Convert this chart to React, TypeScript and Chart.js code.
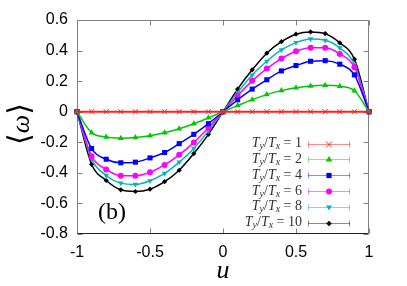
import React, { useEffect, useRef } from 'react';
import { Chart, registerables } from 'chart.js';

Chart.register(...registerables);

// ---- data ----
const uValues = [-1, -0.9, -0.8, -0.7, -0.6, -0.5, -0.4, -0.3, -0.2, -0.1, 0, 0.1, 0.2, 0.3, 0.4, 0.5, 0.6, 0.7, 0.8, 0.9, 1];

const ratio1 = [0, 0, 0, 0, 0, 0, 0, 0, 0, 0, 0, 0, 0, 0, 0, 0, 0, 0, 0, 0, 0];
const ratio2 = [0, -0.137, -0.166, -0.173, -0.169, -0.157, -0.138, -0.112, -0.079, -0.040, 0, 0.040, 0.079, 0.112, 0.138, 0.157, 0.169, 0.173, 0.166, 0.137, 0];
const ratio4 = [0, -0.241, -0.311, -0.334, -0.330, -0.302, -0.267, -0.209, -0.148, -0.078, 0, 0.078, 0.148, 0.209, 0.267, 0.302, 0.330, 0.334, 0.311, 0.241, 0];
const ratio6 = [0, -0.291, -0.378, -0.419, -0.419, -0.396, -0.348, -0.282, -0.202, -0.105, 0, 0.105, 0.202, 0.282, 0.348, 0.396, 0.419, 0.419, 0.378, 0.291, 0];
const ratio8 = [0, -0.310, -0.417, -0.467, -0.476, -0.452, -0.404, -0.330, -0.240, -0.125, 0, 0.125, 0.240, 0.330, 0.404, 0.452, 0.476, 0.467, 0.417, 0.310, 0];
const ratio10 = [0, -0.344, -0.450, -0.511, -0.522, -0.507, -0.458, -0.383, -0.274, -0.148, 0, 0.148, 0.274, 0.383, 0.458, 0.507, 0.522, 0.511, 0.450, 0.344, 0];

const seriesRatios = ['1', '2', '4', '6', '8', '10'];
const seriesValues = [ratio1, ratio2, ratio4, ratio6, ratio8, ratio10];

const xTicks = [-1, -0.5, 0, 0.5, 1];
const xTickLabels = ['-1', '-0.5', '0', '0.5', '1'];
const yTicks = [0.6, 0.4, 0.2, 0, -0.2, -0.4, -0.6, -0.8];
const yTickLabels = ['0.6', '0.4', '0.2', '0', '-0.2', '-0.4', '-0.6', '-0.8'];

// ---- styles ----
const colors = ['#ff2020', '#00c800', '#0000ff', '#ff00ff', '#00b8b8', '#000000'];
const lightColors = ['rgba(255,40,40,0.55)', 'rgba(0,200,0,0.45)', 'rgba(0,0,255,0.45)', 'rgba(255,0,255,0.5)', 'rgba(0,184,184,0.5)', 'rgba(0,0,0,0.45)'];
const pointStyles: any[] = ['crossRot', 'triangle', 'rect', 'circle', 'triangle', 'rectRot'];
const pointRotations = [0, 0, 0, 0, 180, 0];
const pointRadii = [3.5, 3.5, 3.6, 3, 3.2, 2.6];

function drawMarker(ctx: CanvasRenderingContext2D, idx: number, x: number, y: number) {
  const c = colors[idx];
  ctx.save();
  ctx.fillStyle = c;
  ctx.strokeStyle = c;
  ctx.lineWidth = 1;
  ctx.beginPath();
  if (idx === 0) {
    const s = 3;
    ctx.moveTo(x - s, y - s); ctx.lineTo(x + s, y + s);
    ctx.moveTo(x - s, y + s); ctx.lineTo(x + s, y - s);
    ctx.stroke();
  } else if (idx === 1) {
    ctx.moveTo(x, y - 3.5); ctx.lineTo(x + 3.3, y + 2); ctx.lineTo(x - 3.3, y + 2); ctx.closePath(); ctx.fill();
  } else if (idx === 2) {
    ctx.rect(x - 2.6, y - 2.6, 5.2, 5.2); ctx.fill();
  } else if (idx === 3) {
    ctx.arc(x, y, 3, 0, Math.PI * 2); ctx.fill();
  } else if (idx === 4) {
    ctx.moveTo(x, y + 3); ctx.lineTo(x + 3, y - 2); ctx.lineTo(x - 3, y - 2); ctx.closePath(); ctx.fill();
  } else {
    ctx.moveTo(x, y - 2.8); ctx.lineTo(x + 2.8, y); ctx.lineTo(x, y + 2.8); ctx.lineTo(x - 2.8, y); ctx.closePath(); ctx.fill();
  }
  ctx.restore();
}

function drawLegendLabel(ctx: CanvasRenderingContext2D, ratio: string, xRight: number, y: number) {
  const main = 'italic 14px "Liberation Serif"';
  const sub = 'italic 10px "Liberation Serif"';
  const up = '14px "Liberation Serif"';
  const parts = [
    { t: 'T', f: main, dy: 0 },
    { t: 'y', f: sub, dy: 3 },
    { t: '/', f: up, dy: 0 },
    { t: 'T', f: main, dy: 0 },
    { t: 'x', f: sub, dy: 3 },
    { t: ' = ' + ratio, f: up, dy: 0 },
  ];
  ctx.save();
  ctx.fillStyle = '#333';
  ctx.textBaseline = 'middle';
  ctx.textAlign = 'left';
  let total = 0;
  const widths = parts.map((p) => { ctx.font = p.f; const w = ctx.measureText(p.t).width; total += w; return w; });
  let x = xRight - total;
  parts.forEach((p, i) => {
    ctx.font = p.f;
    ctx.fillText(p.t, x, y + p.dy);
    x += widths[i];
  });
  ctx.restore();
}

const decorPlugin = {
  id: 'decor',
  beforeDatasetsDraw(chart: any) {
    const { ctx, chartArea } = chart;
    const { left, right, top, bottom } = chartArea;
    const xs = chart.scales.x;
    const ys = chart.scales.y;
    const L = Math.round(left) + 0.5, R = Math.round(right) - 0.5;
    const T = Math.round(top) + 0.5, B = Math.round(bottom) - 0.5;
    ctx.save();
    ctx.lineWidth = 1;
    ctx.strokeStyle = '#808080';
    ctx.beginPath();
    ctx.moveTo(L, B); ctx.lineTo(L, T); ctx.lineTo(R, T); ctx.lineTo(R, B);
    const tl = 5;
    xTicks.forEach((v) => {
      const px = Math.round(xs.getPixelForValue(v)) + 0.5;
      ctx.moveTo(px, B); ctx.lineTo(px, B - tl);
      ctx.moveTo(px, T); ctx.lineTo(px, T + tl);
    });
    yTicks.forEach((v) => {
      const py = Math.round(ys.getPixelForValue(v)) + 0.5;
      ctx.moveTo(L, py); ctx.lineTo(L + tl, py);
      ctx.moveTo(R, py); ctx.lineTo(R - tl, py);
    });
    ctx.stroke();
    ctx.strokeStyle = '#222';
    ctx.beginPath();
    ctx.moveTo(L, B); ctx.lineTo(R, B);
    ctx.stroke();
    ctx.restore();
  },
  afterDraw(chart: any) {
    const { ctx, chartArea } = chart;
    ctx.save();
    ctx.fillStyle = '#000';
    ctx.textAlign = 'center';
    ctx.textBaseline = 'middle';
    ctx.font = 'italic 26px "Liberation Serif"';
    ctx.fillText('u', (chartArea.left + chartArea.right) / 2, 271);

    // y-axis title ⟨ω⟩ rotated
    ctx.save();
    ctx.translate(21, 124);
    ctx.rotate(-Math.PI / 2);
    ctx.textAlign = 'left';
    const brFont = '30px "DejaVu Serif"';
    const omFont = 'italic 26px "Liberation Serif"';
    ctx.font = brFont;
    const wl = ctx.measureText('\u27E8').width;
    const wr = ctx.measureText('\u27E9').width;
    ctx.font = omFont;
    const wo = ctx.measureText('\u03C9').width;
    const tot = wl + wo + wr;
    let xx = -tot / 2;
    ctx.font = brFont;
    ctx.fillText('\u27E8', xx, 0);
    xx += wl;
    ctx.font = omFont;
    ctx.fillText('\u03C9', xx, 1);
    xx += wo;
    ctx.font = brFont;
    ctx.fillText('\u27E9', xx, 0);
    ctx.restore();

    ctx.font = '24px "Liberation Serif"';
    ctx.fillText('(b)', 112, 213);
    ctx.restore();

    // legend
    const x1 = 308, x2 = 350, xm = 329, xText = 302;
    seriesRatios.forEach((r, i) => {
      const y = 143.5 + i * 15.8;
      drawLegendLabel(ctx, r, xText, y);
      ctx.save();
      ctx.strokeStyle = lightColors[i];
      ctx.lineWidth = 1;
      const yy = Math.round(y) + 0.5;
      ctx.beginPath();
      ctx.moveTo(x1, yy); ctx.lineTo(x2, yy);
      ctx.moveTo(x1 + 0.5, yy - 3); ctx.lineTo(x1 + 0.5, yy + 3);
      ctx.moveTo(x2 - 0.5, yy - 3); ctx.lineTo(x2 - 0.5, yy + 3);
      ctx.stroke();
      ctx.restore();
      drawMarker(ctx, i, xm, yy);
    });
  },
};

export default function App() {
  const canvasRef = useRef<HTMLCanvasElement | null>(null);

  useEffect(() => {
    if (!canvasRef.current) return;
    const datasets = seriesValues.map((vals, i) => ({
      label: 'T_y/T_x = ' + seriesRatios[i],
      data: uValues.map((u, k) => ({ x: u, y: vals[k] })),
      borderColor: colors[i],
      backgroundColor: colors[i],
      borderWidth: i === 0 ? 2 : 1.5,
      pointStyle: pointStyles[i],
      pointRotation: pointRotations[i],
      pointRadius: pointRadii[i],
      pointBorderWidth: i === 0 ? 1 : 0,
      pointBorderColor: colors[i],
      pointBackgroundColor: colors[i],
      cubicInterpolationMode: 'monotone' as const,
      clip: false as any,
    }));

    const chart = new Chart(canvasRef.current, {
      type: 'line',
      data: { datasets },
      options: {
        animation: false,
        responsive: true,
        maintainAspectRatio: false,
        layout: { padding: { left: 0, top: 20, right: 38, bottom: 0 } },
        plugins: { legend: { display: false }, tooltip: { enabled: false } },
        scales: {
          x: {
            type: 'linear',
            min: -1,
            max: 1,
            grid: { display: false, drawTicks: false },
            border: { display: false },
            afterBuildTicks: (s: any) => { s.ticks = xTicks.map((v) => ({ value: v })); },
            afterFit: (s: any) => { s.height = 52; },
            ticks: {
              padding: 9,
              color: '#000',
              font: { family: '"Liberation Sans"', size: 16 },
              callback: (v: any) => { const i = xTicks.indexOf(Number(v)); return i >= 0 ? xTickLabels[i] : ''; },
              maxRotation: 0,
              autoSkip: false,
            },
          },
          y: {
            type: 'linear',
            min: -0.8,
            max: 0.6,
            grid: { display: false, drawTicks: false },
            border: { display: false },
            afterBuildTicks: (s: any) => { s.ticks = yTicks.map((v) => ({ value: v })); },
            afterFit: (s: any) => { s.width = 77; },
            ticks: {
              padding: 9,
              color: '#000',
              font: { family: '"Liberation Sans"', size: 16 },
              callback: (v: any) => {
                const i = yTicks.findIndex((t) => Math.abs(t - Number(v)) < 1e-9);
                return i >= 0 ? yTickLabels[i] : '';
              },
              autoSkip: false,
            },
          },
        },
      },
      plugins: [decorPlugin],
    });
    return () => chart.destroy();
  }, []);

  return (
    <div style={{ position: 'absolute', left: 0, top: 0, width: 407, height: 286, background: '#fff' }}>
      <canvas ref={canvasRef} />
    </div>
  );
}
